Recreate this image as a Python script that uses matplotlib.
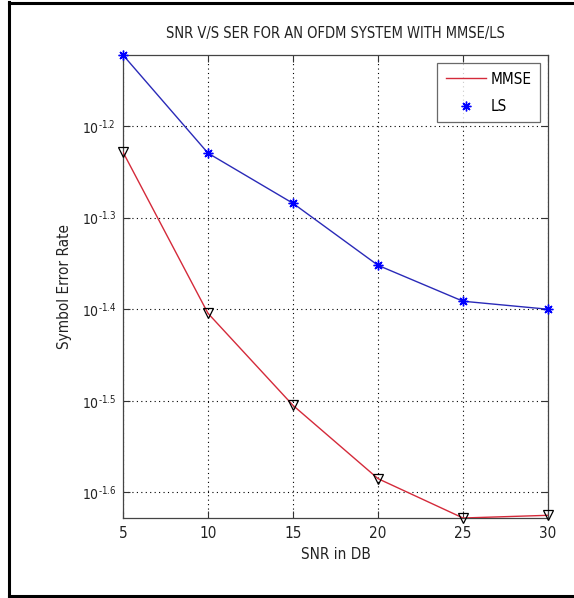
import numpy as np
import matplotlib
matplotlib.use("Agg")
import matplotlib.pyplot as plt
from matplotlib.lines import Line2D
from matplotlib import font_manager

ttf = font_manager.fontManager.ttflist
names = {f.name for f in ttf}
stretch = 'normal'
if 'Liberation Sans Narrow' in names:
    main_font = 'Liberation Sans Narrow'
elif any(f.name == 'DejaVu Sans' and f.stretch == 'condensed' and f.weight in (400, 'normal') for f in ttf):
    main_font = 'DejaVu Sans'
    stretch = 'condensed'
else:
    main_font = 'Liberation Sans'
plt.rcParams['font.family'] = [main_font, 'DejaVu Sans']
plt.rcParams['font.stretch'] = stretch
plt.rcParams['mathtext.fontset'] = 'custom'
plt.rcParams['mathtext.rm'] = main_font + (':stretch=condensed' if stretch == 'condensed' else '')
plt.rcParams['mathtext.it'] = plt.rcParams['mathtext.rm']

# Data
snr_db = [5, 10, 15, 20, 25, 30]
ser_mmse = [0.0591, 0.0394, 0.03126, 0.0260, 0.02355, 0.02371]
ser_ls = [0.07545, 0.05895, 0.05196, 0.04446, 0.04062, 0.03981]
ytick_exps = [-1.6, -1.5, -1.4, -1.3, -1.2]
ytick_labels = [r'$10^{\text{-1.6}}$', r'$10^{\text{-1.5}}$', r'$10^{\text{-1.4}}$',
                r'$10^{\text{-1.3}}$', r'$10^{\text{-1.2}}$']
xticks = [5, 10, 15, 20, 25, 30]

W, H = 574, 598
fig = plt.figure(figsize=(W / 100, H / 100), dpi=100)
fig.patch.set_facecolor('white')

# outer frame (left, top, bottom)
lw = 2.2
fig.add_artist(Line2D([8.5 / W, 8.5 / W], [1 - 2 / H, 1 - 595.5 / H], transform=fig.transFigure, color='black', lw=lw))
fig.add_artist(Line2D([8.5 / W, 1.0], [1 - 2.5 / H, 1 - 2.5 / H], transform=fig.transFigure, color='black', lw=lw))
fig.add_artist(Line2D([8.5 / W, 1.0], [1 - 595.5 / H, 1 - 595.5 / H], transform=fig.transFigure, color='black', lw=lw))

ax = fig.add_axes([123 / W, 1 - 518 / H, (548 - 123) / W, (518 - 55) / H])
ax.set_yscale('log')

red = '#d42a3a'
blue = '#2a2ab8'
star = (8, 2, 0)
ax.plot(snr_db, ser_mmse, color=red, lw=1.0, zorder=3)
ax.plot(snr_db, ser_mmse, linestyle='none', marker='v', markersize=7.5,
        markerfacecolor='none', markeredgecolor='black', markeredgewidth=0.9, zorder=4, clip_on=False)
ax.plot(snr_db, ser_ls, color=blue, lw=1.0, zorder=3)
ax.plot(snr_db, ser_ls, linestyle='none', marker=star, markersize=7,
        color='#0000ff', markeredgewidth=1.0, zorder=4, clip_on=False)

ax.set_xlim(min(snr_db), max(snr_db))
ax.set_ylim(min(ser_mmse + ser_ls), max(ser_mmse + ser_ls))

ax.set_xticks(xticks)
ax.set_xticklabels([str(v) for v in xticks])
ax.yaxis.set_major_locator(matplotlib.ticker.FixedLocator([10 ** e for e in ytick_exps]))
ax.yaxis.set_minor_locator(matplotlib.ticker.NullLocator())
ax.set_yticklabels(ytick_labels)

ax.tick_params(axis='both', which='both', direction='in', length=5, width=0.8,
               top=True, right=True, labelsize=11, colors='#333333', pad=6)
ax.tick_params(axis='y', labelsize=10, pad=5)
for lab in ax.get_xticklabels() + ax.get_yticklabels():
    lab.set_color('#222222')
for sp in ax.spines.values():
    sp.set_color('#444444')
    sp.set_linewidth(0.9)

ax.grid(True, which='major', linestyle=(0, (1, 3)), color='black', linewidth=0.8)

ax.set_title('SNR V/S SER FOR AN OFDM SYSTEM WITH MMSE/LS', fontsize=10.5, color='#222222', pad=12)
ax.set_xlabel('SNR in DB', fontsize=11, color='#222222', labelpad=4)
ax.set_ylabel('Symbol Error Rate', fontsize=11, color='#222222', labelpad=7)

handles = [Line2D([], [], color=red, lw=1.0),
           Line2D([], [], color='#0000ff', linestyle='none', marker=star, markersize=7, markeredgewidth=1.0)]
leg = ax.legend(handles, ['MMSE', 'LS'], loc='upper right', fontsize=11,
                frameon=True, fancybox=False, edgecolor='#444444', borderaxespad=0.55,
                handlelength=2.6, labelspacing=0.8, handletextpad=0.3, borderpad=0.55)
leg.get_frame().set_linewidth(0.9)

fig.savefig('out.png', dpi=100, facecolor='white')
